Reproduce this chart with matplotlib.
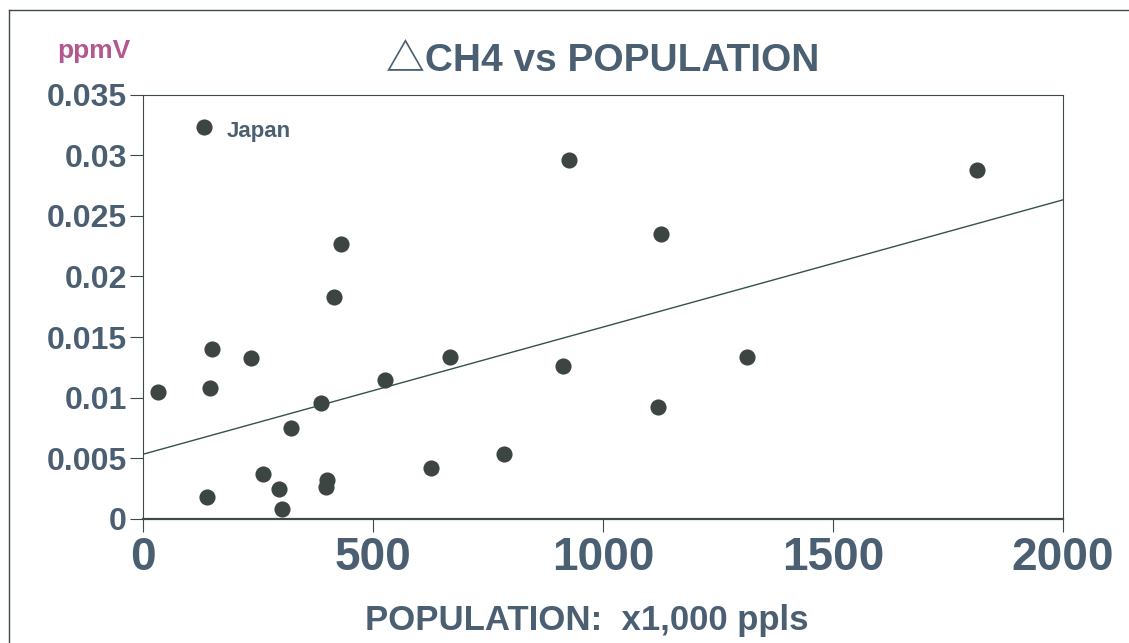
import numpy as np
import matplotlib
matplotlib.use('Agg')
import matplotlib.pyplot as plt
from matplotlib.lines import Line2D

# population (x1,000 ppls) vs delta CH4 (ppmV)
population = [133, 33, 145, 149, 140, 235, 261, 296, 302, 321, 386, 399, 397,
              415, 430, 525, 626, 667, 785, 913, 926, 1120, 1126, 1314, 1812]
delta_ch4 = [0.0323, 0.0105, 0.0108, 0.0140, 0.0018, 0.0133, 0.0037, 0.0025,
             0.0008, 0.0075, 0.0096, 0.0032, 0.0026, 0.0183, 0.0227, 0.0115,
             0.0042, 0.0134, 0.0054, 0.0126, 0.0296, 0.0092, 0.0235, 0.0134,
             0.0288]

trend_x = [0, 2000]
trend_y = [0.00534, 0.02632]

x_ticks = [0, 500, 1000, 1500, 2000]
y_ticks = [0, 0.005, 0.01, 0.015, 0.02, 0.025, 0.03, 0.035]
y_tick_labels = ['0', '0.005', '0.01', '0.015', '0.02', '0.025', '0.03', '0.035']

TEXT = '#4b5f72'
DOT = '#3c4541'
LINE = '#34504f'
FRAME = '#3e4a4a'

plt.rcParams['font.family'] = ['Liberation Sans', 'DejaVu Sans']

W, H = 1129, 643
fig = plt.figure(figsize=(W / 100, H / 100), dpi=100)
ax = fig.add_axes([143 / W, 1 - 519 / H, (1063 - 143) / W, (519 - 94.6) / H])

ax.scatter(population, delta_ch4, s=135, color=DOT, linewidths=0, zorder=3,
           clip_on=False)
ax.plot(trend_x, trend_y, color=LINE, lw=1.0, zorder=2)

ax.annotate('Japan', (population[0], delta_ch4[0]), xytext=(16, -3),
            textcoords='offset points', va='center', ha='left',
            fontsize=16, fontweight='bold', color=TEXT)

ax.set_xlim(0, 2000)
ax.set_ylim(0, 0.035)
ax.set_xticks(x_ticks)
ax.set_xticklabels([str(v) for v in x_ticks], fontsize=33,
                   fontweight='bold', color=TEXT)
ax.set_yticks(y_ticks)
ax.set_yticklabels(y_tick_labels, fontsize=23, fontweight='bold', color=TEXT)
ax.tick_params(axis='x', direction='out', length=9.5, width=0.8,
               color=FRAME, pad=3)
ax.tick_params(axis='y', direction='out', length=9.5, width=0.8,
               color=FRAME, pad=2)

for side in ['left', 'top', 'right']:
    ax.spines[side].set_color(FRAME)
    ax.spines[side].set_linewidth(0.8)
ax.spines['bottom'].set_color(FRAME)
ax.spines['bottom'].set_linewidth(1.6)

ax.set_title('\u25b3CH4 vs POPULATION', fontsize=28, fontweight='bold',
             color=TEXT, pad=17,
             family=['Liberation Sans', 'Noto Sans CJK JP', 'DejaVu Sans'])
fig.text(587 / W, 1 - 630 / H, 'POPULATION:  x1,000 ppls', ha='center',
         va='baseline', fontsize=25, fontweight='bold', color=TEXT)
fig.text(57 / W, 1 - 58 / H, 'ppmV', ha='left', va='baseline',
         fontsize=19, fontweight='bold', color='#b4568f')

# outer frame (left and top edges visible in the original)
fig.add_artist(Line2D([8.5 / W, 8.5 / W], [0, 1 - 10 / H],
                      transform=fig.transFigure, color=FRAME, lw=1.0))
fig.add_artist(Line2D([8.5 / W, 1], [1 - 10 / H, 1 - 10 / H],
                      transform=fig.transFigure, color=FRAME, lw=1.0))

fig.savefig('out.png', dpi=100)
